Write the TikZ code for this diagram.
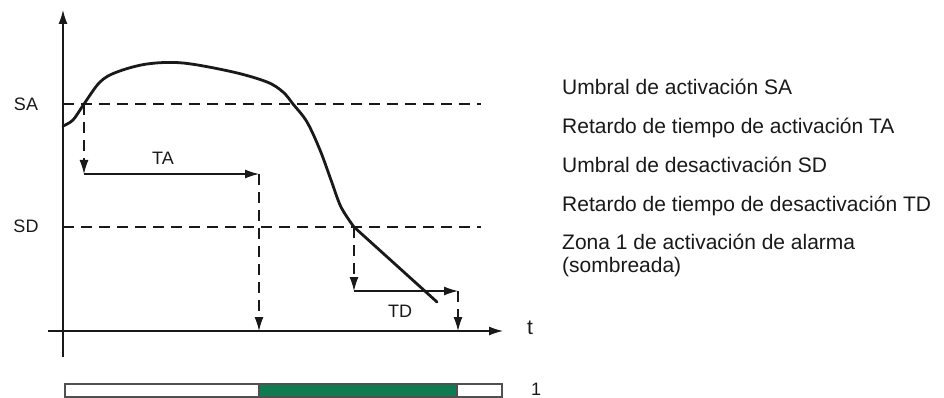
\documentclass[tikz,border=0pt]{standalone}
\usepackage{fontspec}
\setmainfont{Liberation Sans}
\usetikzlibrary{arrows.meta}
\definecolor{ink}{RGB}{25,25,25}
\definecolor{zone}{RGB}{16,122,80}
\definecolor{barline}{RGB}{80,80,80}
\tikzset{
  axisline/.style={draw=ink,line width=1.4pt,-{Latex[length=14pt,width=9pt]}},
  guide/.style={draw=ink,line width=1.3pt,dash pattern=on 11pt off 7pt},
  guidearrow/.style={guide,-{Latex[length=14pt,width=9pt]}},
  delay/.style={draw=ink,line width=1.3pt,-{Latex[length=14pt,width=9pt]}},
  curveline/.style={draw=ink,line width=2.8pt,line join=round,line cap=round},
  lbl/.style={text=ink,font=\fontsize{18}{20}\selectfont,inner sep=0pt},
  legend/.style={text=ink,font=\fontsize{21}{23}\selectfont,inner sep=0pt,anchor=base west,align=left},
}
\begin{document}
\begin{tikzpicture}[x=1pt,y=-1pt]
\useasboundingbox (0,0) rectangle (944,398);
% axes
\coordinate (ybot) at (63,357);
\coordinate (ytop) at (63,10);
\coordinate (xleft) at (48,331);
\coordinate (xright) at (503,331);
\draw[axisline] (ybot) -- (ytop);
\draw[axisline] (xleft) -- (xright);
\node[lbl,font=\fontsize{21}{23}\selectfont] (t) at (530,328) {t};
% thresholds
\coordinate (saL) at (63,104);
\coordinate (saR) at (481,104);
\coordinate (sdL) at (63,227);
\coordinate (sdR) at (481,227);
\draw[guide] (saL) -- (saR);
\draw[guide] (sdL) -- (sdR);
\node[lbl] (SA) at (26,104) {SA};
\node[lbl] (SD) at (26,226) {SD};
% curve
\draw[curveline] plot[smooth,tension=0.55] coordinates {(63,126) (73,120) (84,104) (100,82) (117,72) (147,64) (183,63) (233,72) (267,82) (283,92) (293,104) (307,122) (320,150) (331,180) (341,207) (354,227)} -- (437,302);
% TA
\coordinate (saX) at (84,104);
\coordinate (taStart) at (84,174);
\coordinate (taEnd) at (259,174);
\coordinate (taAxis) at (259,331);
\draw[guidearrow] (saX) -- (taStart);
\draw[delay] (taStart) -- (taEnd);
\draw[guidearrow] (taEnd) -- (taAxis);
\node[lbl] (TA) at (163,158) {TA};
% TD
\coordinate (sdX) at (354,227);
\coordinate (tdStart) at (354,291);
\coordinate (tdEnd) at (458,291);
\coordinate (tdAxis) at (458,331);
\draw[guidearrow] (sdX) -- (tdStart);
\draw[delay] (tdStart) -- (tdEnd);
\draw[guidearrow] (tdEnd) -- (tdAxis);
\node[lbl] (TD) at (400,311) {TD};
% bar
\fill[zone] (259,384) rectangle (457,397);
\draw[barline,line width=1.3pt] (65,384) rectangle (502,397);
\draw[barline,line width=1.3pt] (259,384) -- (259,397) (457,384) -- (457,397);
\node[lbl] (one) at (536,389) {1};
% legend
\node[legend] (l1) at (562,95) {Umbral de activación SA};
\node[legend] (l2) at (562,134) {Retardo de tiempo de activación TA};
\node[legend] (l3) at (562,172) {Umbral de desactivación SD};
\node[legend] (l4) at (562,211) {Retardo de tiempo de desactivación TD};
\node[legend] (l5) at (562,272) {Zona 1 de activación de alarma\\(sombreada)};
\end{tikzpicture}
\end{document}
